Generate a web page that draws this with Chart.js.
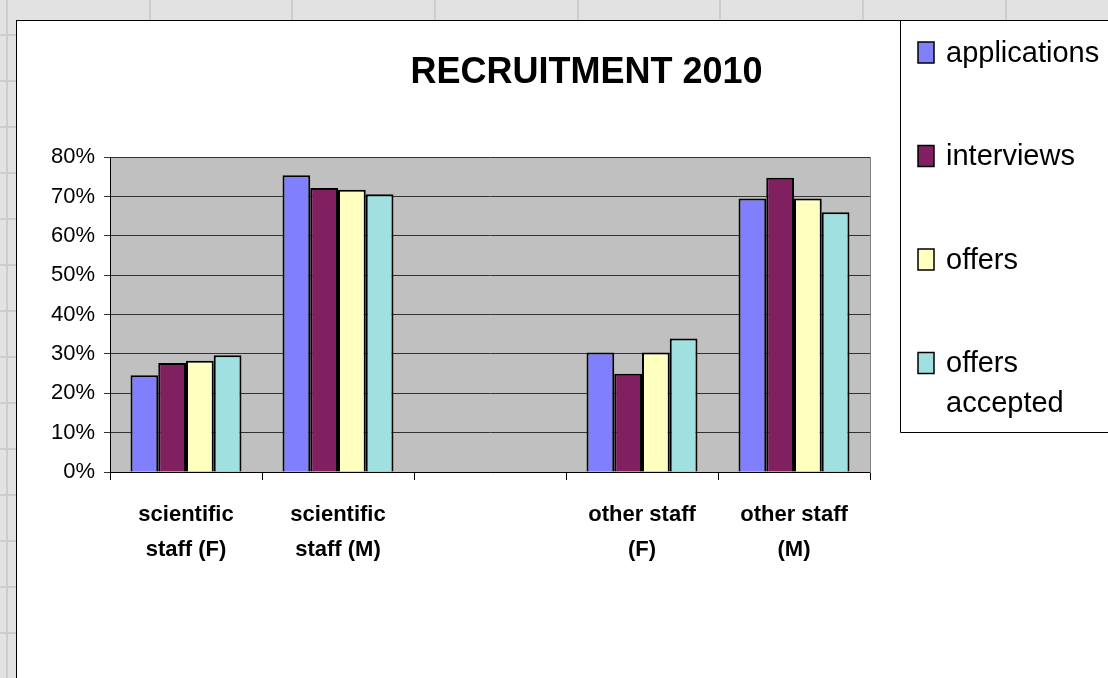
<!DOCTYPE html>
<html>
<head>
<meta charset="utf-8">
<script src="https://cdn.jsdelivr.net/npm/chart.js@4/dist/chart.umd.min.js"></script>
<style>
  html, body { margin: 0; padding: 0; width: 1108px; height: 678px; overflow: hidden; }
  body {
    background-color: #e2e2e2;
    background-image:
      repeating-linear-gradient(90deg, transparent 0 6px, #cdcdcd 6px 8px, transparent 8px 142.7px),
      repeating-linear-gradient(0deg, transparent 0 44px, #cdcdcd 44px 46px);
  }
  #frame { position: absolute; left: 16px; top: 20px; width: 1200px; height: 700px;
           background: #fff; border-left: 1px solid #000; border-top: 1px solid #000; }
  #wrap { position: absolute; left: 0; top: 0; width: 1156px; height: 678px; }
</style>
</head>
<body>
<div id="frame"></div>
<div id="wrap"><canvas id="recruitChart"></canvas></div>
<script>
// Categories (3rd one is an empty slot in the original sheet)
var categories = [['scientific', 'staff (F)'], ['scientific', 'staff (M)'], '', ['other staff', '(F)'], ['other staff', '(M)']];
var seriesNames = ['applications', 'interviews', 'offers', 'offers accepted'];
var seriesColors = ['#8080ff', '#802060', '#ffffc0', '#a0e0e0'];

// Values in percent
var applications = [24.6, 75.4, null, 30.4, 69.5];
var interviews = [27.7, 72.2, null, 25.0, 74.8];
var offers = [28.3, 71.7, null, 30.4, 69.5];
var offersAccepted = [29.7, 70.6, null, 33.9, 66.0];

var yTicks = [0, 10, 20, 30, 40, 50, 60, 70, 80];

var FONT = "'Liberation Sans', Arial, sans-serif";

// Grey plot area background
var plotBackground = {
    id: 'plotBackground',
    beforeDraw: function(chart) {
        var a = chart.chartArea;
        var ctx = chart.ctx;
        ctx.save();
        ctx.fillStyle = '#c0c0c0';
        ctx.fillRect(a.left, a.top, a.right - a.left, a.bottom - a.top);
        ctx.restore();
    }
};

// Boxed legend on the right, like the Excel one
var boxLegend = {
    id: 'boxLegend',
    afterDraw: function(chart) {
        var ctx = chart.ctx;
        ctx.save();
        ctx.strokeStyle = '#000';
        ctx.lineWidth = 1;
        ctx.beginPath();
        ctx.moveTo(1200, 20.5);
        ctx.lineTo(900.5, 20.5);
        ctx.lineTo(900.5, 432.5);
        ctx.lineTo(1200, 432.5);
        ctx.stroke();

        ctx.font = '29px ' + FONT;
        ctx.textBaseline = 'middle';
        var y = 52.5;
        chart.data.datasets.forEach(function(ds) {
            ctx.fillStyle = ds.backgroundColor;
            ctx.fillRect(918, y - 10.5, 16, 21);
            ctx.lineWidth = 1.5;
            ctx.strokeStyle = '#000';
            ctx.strokeRect(918, y - 10.5, 16, 21);

            // wrap words to the box width
            var words = ds.label.split(' ');
            var lines = [];
            var line = '';
            words.forEach(function(w) {
                var test = line ? line + ' ' + w : w;
                if (line && ctx.measureText(test).width > 158) {
                    lines.push(line);
                    line = w;
                } else {
                    line = test;
                }
            });
            lines.push(line);
            ctx.fillStyle = '#000';
            lines.forEach(function(l, i) {
                ctx.fillText(l, 946, y + 1 + i * 40);
            });
            y += 103.5;
        });
        ctx.restore();
    }
};

var ctx = document.getElementById('recruitChart').getContext('2d');
var recruitChart = new Chart(ctx, {
    type: 'bar',
    data: {
        labels: categories,
        datasets: [applications, interviews, offers, offersAccepted].map(function(values, i) {
            return {
                label: seriesNames[i],
                data: values,
                backgroundColor: seriesColors[i],
                borderColor: '#000',
                borderWidth: 2,
                categoryPercentage: 0.73,
                barPercentage: 1.0
            };
        })
    },
    options: {
        responsive: true,
        maintainAspectRatio: false,
        animation: false,
        layout: { padding: { left: 17, right: 0, top: 0, bottom: 0 } },
        plugins: {
            legend: { display: false },
            tooltip: { enabled: false },
            title: {
                display: true,
                text: 'RECRUITMENT 2010',
                color: '#000',
                font: { family: FONT, size: 36, weight: 'bold', lineHeight: 1.2 },
                padding: { top: 51, bottom: 63 }
            }
        },
        scales: {
            x: {
                grid: { offset: true, drawOnChartArea: false, drawTicks: true, tickLength: 8, color: '#000' },
                border: { color: '#000', width: 1 },
                ticks: {
                    color: '#000',
                    autoSkip: false,
                    maxRotation: 0,
                    padding: 17,
                    font: { family: FONT, size: 22, weight: 'bold', lineHeight: 1.6 }
                },
                afterFit: function(scale) { scale.height = 206; }
            },
            y: {
                min: 0,
                max: 80,
                grid: { color: '#333', lineWidth: 1, tickLength: 6 },
                border: { color: '#000', width: 1 },
                afterBuildTicks: function(scale) {
                    scale.ticks = yTicks.map(function(v) { return { value: v }; });
                },
                ticks: {
                    color: '#000',
                    padding: 9,
                    font: { family: FONT, size: 22 },
                    callback: function(v) { return v + '%'; }
                },
                afterFit: function(scale) { scale.width = 93; }
            },
            y2: {
                position: 'right',
                grid: { drawOnChartArea: false, drawTicks: false },
                border: { color: '#808080', width: 1 },
                ticks: { display: false },
                afterFit: function(scale) { scale.width = 286; }
            }
        }
    },
    plugins: [plotBackground, boxLegend]
});
</script>
</body>
</html>
